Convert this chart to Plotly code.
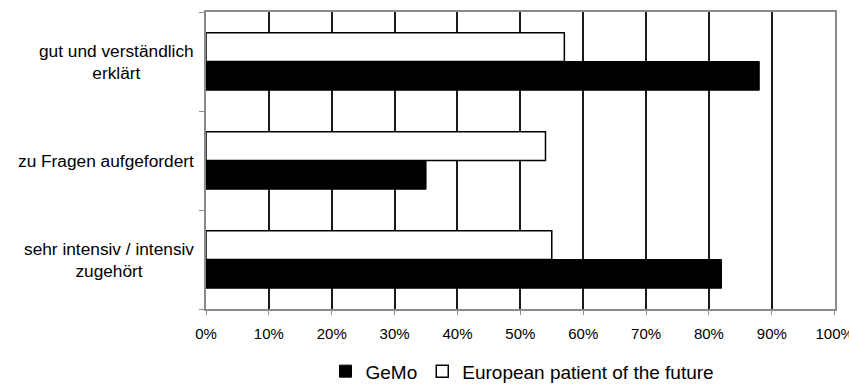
import plotly.graph_objects as go

# Categories listed bottom-to-top (Plotly draws the first category at the bottom)
categories = [
    "sehr intensiv / intensiv<br>zugehört",
    "zu Fragen aufgefordert",
    "gut und verständlich<br>erklärt",
]
gemo = [0.82, 0.35, 0.88]
european_patient = [0.55, 0.54, 0.57]
x_ticks = [0, 0.1, 0.2, 0.3, 0.4, 0.5, 0.6, 0.7, 0.8, 0.9, 1.0]

FONT = "Liberation Sans, Arial, sans-serif"

fig = go.Figure()
fig.add_trace(go.Bar(
    y=categories, x=gemo, orientation="h", name="GeMo",
    marker=dict(color="#000000", line=dict(color="#000000", width=1)),
))
fig.add_trace(go.Bar(
    y=categories, x=european_patient, orientation="h",
    name="European patient of the future",
    marker=dict(color="#ffffff", line=dict(color="#000000", width=1.5)),
))

# Category labels as centred multi-line annotations left of the plot
for cat in categories:
    fig.add_annotation(
        x=-0.016, xref="paper", y=cat, yref="y", text=cat,
        showarrow=False, xanchor="right", yanchor="middle", align="center",
        font=dict(family=FONT, size=17.3, color="#000000"),
    )

fig.update_layout(
    width=849, height=390,
    margin=dict(l=206, r=14, t=12, b=81, autoexpand=False),
    paper_bgcolor="#ffffff", plot_bgcolor="#ffffff",
    barmode="group", bargap=0.42, bargroupgap=0,
    font=dict(family=FONT, size=15, color="#000000"),
    showlegend=True,
    legend=dict(
        orientation="h", x=0.19, xanchor="left",
        yref="container", y=0.048, yanchor="middle",
        font=dict(family=FONT, size=19, color="#000000"),
        traceorder="normal", itemwidth=30,
    ),
    xaxis=dict(
        range=[0, 1.0005], tickvals=x_ticks, tickformat=".0%",
        showgrid=True, gridcolor="#1a1a1a", gridwidth=2,
        zeroline=False, showline=True, linecolor="#8a8a8a", linewidth=1.5,
        mirror=True, ticks="outside", ticklen=4, tickcolor="#8a8a8a",
        ticklabeloverflow="allow", ticklabelstandoff=6,
        tickfont=dict(family=FONT, size=15, color="#000000"),
        automargin=False, fixedrange=True,
    ),
    yaxis=dict(
        categoryorder="array", categoryarray=categories,
        showticklabels=False, showgrid=False, zeroline=False,
        showline=True, linecolor="#8a8a8a", linewidth=1.5, mirror=True,
        ticks="outside", ticklen=5, tickcolor="#8a8a8a", tickson="boundaries",
        automargin=False, fixedrange=True,
    ),
)

fig.write_html("out.html", config={"displayModeBar": False})
